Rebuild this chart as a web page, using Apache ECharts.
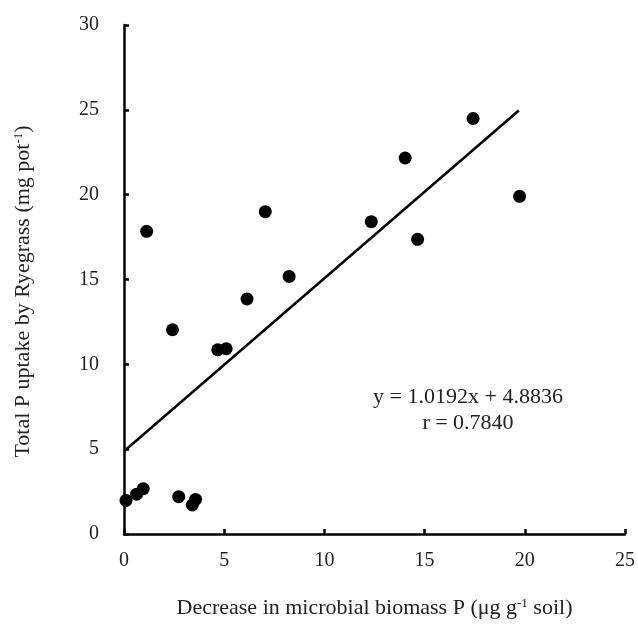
<!DOCTYPE html>
<html>
<head>
<meta charset="utf-8">
<script src="https://cdn.jsdelivr.net/npm/echarts@6/dist/echarts.min.js"></script>
<style>
html, body { margin: 0; padding: 0; background: #fff; }
#chart { width: 638px; height: 633px; }
</style>
</head>
<body>
<div id="chart"></div>
<script>
// points
const decreaseP = [0.10, 0.63, 0.96, 1.13, 2.42, 2.73, 3.41, 3.57, 4.68, 5.10, 6.14, 7.05, 8.24, 12.34, 14.03, 14.65, 17.42, 19.74];
const uptakeP   = [1.98, 2.35, 2.67, 17.84, 12.04, 2.20, 1.71, 2.04, 10.86, 10.92, 13.85, 19.0, 15.18, 18.41, 22.16, 17.37, 24.49, 19.9];
// fitted line ends
const fitX = [0, 19.7];
const fitY = [4.88, 24.96];
const xTicks = [0, 5, 10, 15, 20, 25];
const yTicks = [0, 5, 10, 15, 20, 25, 30];
const equation = 'y = 1.0192x + 4.8836';
const corr = 'r = 0.7840';

const font = '"Liberation Serif", "DejaVu Serif", serif';
const chart = echarts.init(document.getElementById('chart'));

const supStyle = { fontFamily: font, fontSize: 13, color: '#222', verticalAlign: 'top', padding: [0, 0, 9, 0] };

const axisCommon = {
    type: 'value',
    splitLine: { show: false },
    axisLine: { show: true, lineStyle: { color: '#000', width: 2.5 } },
    axisTick: { show: true, inside: true, length: 5, lineStyle: { color: '#000', width: 2.5 } },
    nameLocation: 'middle'
};

chart.setOption({
    animation: false,
    grid: { left: 124, top: 25, right: 11, bottom: 99 },
    xAxis: Object.assign({}, axisCommon, {
        min: xTicks[0], max: xTicks[xTicks.length - 1], interval: 5,
        name: 'Decrease in microbial biomass P (μg g{sup|-1} soil)',
        nameGap: 63,
        nameTextStyle: { fontFamily: font, fontSize: 22, color: '#222', rich: { sup: supStyle } },
        axisLabel: { fontFamily: font, fontSize: 20, color: '#222', margin: 17 }
    }),
    yAxis: Object.assign({}, axisCommon, {
        min: yTicks[0], max: yTicks[yTicks.length - 1], interval: 5,
        name: 'Total P uptake by Ryegrass (mg pot{sup|-1})',
        nameGap: 90,
        nameTextStyle: { fontFamily: font, fontSize: 22, color: '#222', padding: [0, 24, 0, 0], rich: { sup: supStyle } },
        axisLabel: { fontFamily: font, fontSize: 20, color: '#222', margin: 25 }
    }),
    series: [
        {
            type: 'scatter',
            data: decreaseP.map((x, i) => [x, uptakeP[i]]),
            symbol: 'circle',
            symbolSize: 13,
            itemStyle: { color: '#000', opacity: 1 }
        },
        {
            type: 'line',
            data: fitX.map((x, i) => [x, fitY[i]]),
            symbol: 'none',
            lineStyle: { color: '#000', width: 2.5 }
        }
    ],
    graphic: [
        { type: 'text', x: 468, y: 397, style: { text: equation, font: '22px ' + font, fill: '#222', align: 'center', verticalAlign: 'middle' } },
        { type: 'text', x: 468, y: 423, style: { text: corr, font: '22px ' + font, fill: '#222', align: 'center', verticalAlign: 'middle' } }
    ]
});
</script>
</body>
</html>
